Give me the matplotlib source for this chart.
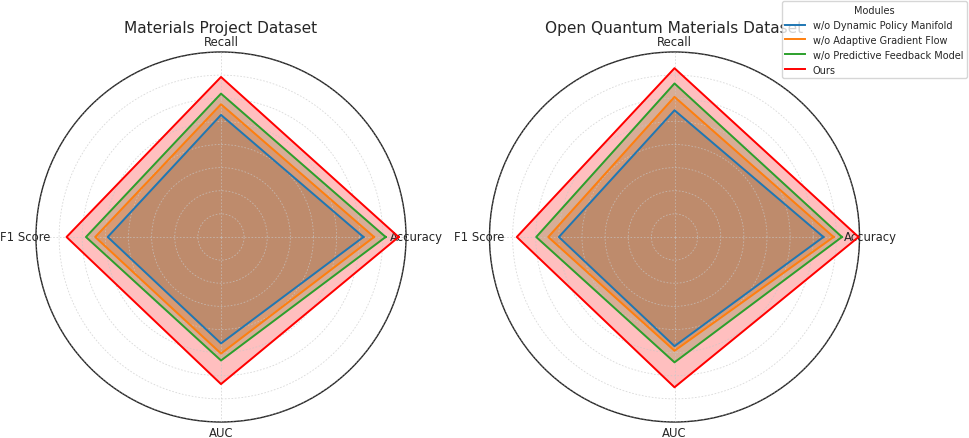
import numpy as np
import matplotlib
matplotlib.use("Agg")
import matplotlib.pyplot as plt

categories = ["Accuracy", "Recall", "F1 Score", "AUC"]
modules = ["w/o Dynamic Policy Manifold", "w/o Adaptive Gradient Flow",
           "w/o Predictive Feedback Model", "Ours"]
colors = ["#1f77b4", "#ff7f0e", "#2ca02c", "#ff0000"]
titles = ["Materials Project Dataset", "Open Quantum Materials Dataset"]

# values per module: Accuracy, Recall, F1 Score, AUC
mp_dpm = [0.908, 0.864, 0.845, 0.830]
mp_agf = [0.931, 0.887, 0.872, 0.852]
mp_pfm = [0.956, 0.910, 0.892, 0.867]
mp_ours = [0.984, 0.946, 0.934, 0.918]

oq_dpm = [0.922, 0.874, 0.850, 0.836]
oq_agf = [0.944, 0.903, 0.873, 0.846]
oq_pfm = [0.962, 0.932, 0.899, 0.871]
oq_ours = [0.998, 0.965, 0.941, 0.925]

datasets = [[mp_dpm, mp_agf, mp_pfm, mp_ours],
            [oq_dpm, oq_agf, oq_pfm, oq_ours]]

r_min, r_max = 0.6, 1.0
r_ticks = [0.65, 0.70, 0.75, 0.80, 0.85, 0.90, 0.95, 1.0]

text_color = "#262626"
fig = plt.figure(figsize=(9.69, 4.39), dpi=100)
W, H = 969.0, 439.0
ax_left = [36.0, 489.5]
axes = [fig.add_axes([x / W, 16.0 / H, 370.0 / W, 370.0 / H], projection="polar")
        for x in ax_left]

angles = np.linspace(0, 2 * np.pi, len(categories), endpoint=False)
angles_closed = np.concatenate([angles, angles[:1]])

handles = []
for ax, title, series in zip(axes, titles, datasets):
    ax.set_axisbelow(False)
    for vals, col, lab in zip(series, colors, modules):
        v = np.array(vals + vals[:1])
        ln, = ax.plot(angles_closed, v, color=col, linewidth=1.4, label=lab, zorder=3)
        ax.fill(angles_closed, v, color=col, alpha=0.25, zorder=1)
        if ax is axes[0]:
            handles.append(ln)
    ax.set_ylim(r_min, r_max)
    ax.set_yticks(r_ticks)
    ax.set_yticklabels([])
    ax.set_thetagrids(np.degrees(angles), categories)
    ax.tick_params(axis="x", labelsize=8.4, colors=text_color, pad=-3)
    ax.grid(True, color="#c8c8c8", linestyle=(0, (2, 2)), linewidth=0.6, alpha=0.7)
    for gl in ax.get_xgridlines() + ax.get_ygridlines():
        gl.set_zorder(2)
    ax.spines["polar"].set_color("#222222")
    ax.spines["polar"].set_linewidth(1.0)
    ax.set_title(title, fontsize=11.1, color=text_color, pad=-2)

leg = fig.legend(handles, modules, title="Modules", loc="upper right",
                 bbox_to_anchor=(0.998, 0.995), borderaxespad=0,
                 fontsize=7, title_fontsize=7)
leg.get_title().set_color(text_color)
for t in leg.get_texts():
    t.set_color(text_color)

fig.savefig("out.png", dpi=100)
